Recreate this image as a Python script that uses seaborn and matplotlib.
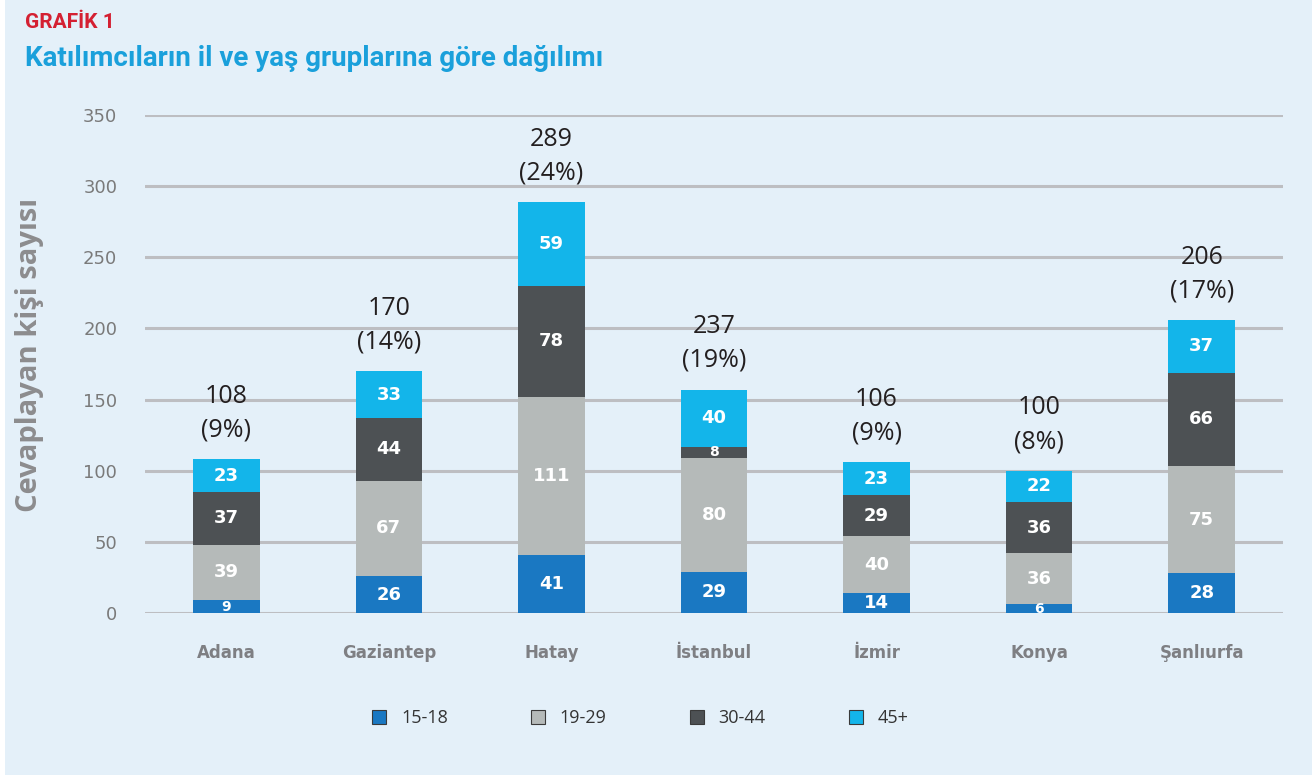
import numpy as np
import pandas as pd
import matplotlib
matplotlib.use("Agg")
import matplotlib.pyplot as plt
from matplotlib.patches import Rectangle, Patch
import seaborn as sns

# ---- data ----
cities = ["Adana", "Gaziantep", "Hatay", "İstanbul", "İzmir", "Konya", "Şanlıurfa"]
age_groups = ["15-18", "19-29", "30-44", "45+"]
v_15_18 = [9, 26, 41, 29, 14, 6, 28]
v_19_29 = [39, 67, 111, 80, 40, 36, 75]
v_30_44 = [37, 44, 78, 8, 29, 36, 66]
v_45p = [23, 33, 59, 40, 23, 22, 37]
totals = [108, 170, 289, 237, 106, 100, 206]
percents = [9, 14, 24, 19, 9, 8, 17]
y_ticks = [0, 50, 100, 150, 200, 250, 300, 350]

colors = ["#1A78C2", "#B5BAB9", "#4D5154", "#13B5EA"]
bg = "#E4F0F9"

sns.set_theme(style="white")
plt.rcParams["font.family"] = ["Open Sans", "DejaVu Sans"]

fig = plt.figure(figsize=(13.12, 7.76), dpi=100)
fig.patch.set_facecolor("white")
fig.add_artist(Rectangle((5 / 1312, 1.5 / 776), 1, 1, transform=fig.transFigure,
                         facecolor=bg, edgecolor="none", zorder=-10))

ax = fig.add_axes([145 / 1312, 1 - 613 / 776, (1283 - 145) / 1312, (613 - 115) / 776])
ax.set_facecolor("none")

series = [v_15_18, v_19_29, v_30_44, v_45p]
cum = np.zeros(len(cities))
cums = []
for s in series:
    cum = cum + np.array(s)
    cums.append(cum.copy())

# draw from top (cumulative) to bottom so the layers stack visually
for i in range(3, -1, -1):
    d = pd.DataFrame({"city": cities, "val": cums[i]})
    sns.barplot(data=d, x="city", y="val", color=colors[i], width=0.41,
                saturation=1, ax=ax, zorder=3, linewidth=0)

ax.set_ylim(0, 350)
ax.set_xlim(-0.5, len(cities) - 0.5)
ax.set_yticks(y_ticks)
ax.yaxis.grid(True, color="#BDBEC2", linewidth=2.2, zorder=0)
ax.set_axisbelow(True)
for sp in ax.spines.values():
    sp.set_visible(False)
ax.tick_params(axis="y", length=0, pad=20, labelsize=13, labelcolor="#7A7A7A")
ax.tick_params(axis="x", length=0, pad=22, labelsize=12, labelcolor="#7E7F83")
for lbl in ax.get_yticklabels():
    lbl.set_family(["DejaVu Sans"])
for lbl in ax.get_xticklabels():
    lbl.set_family(["DejaVu Sans"])
    lbl.set_fontweight("bold")
ax.set_xlabel("")
ax.set_ylabel("")

# segment labels
for i, s in enumerate(series):
    base = cums[i] - np.array(s)
    for j, v in enumerate(s):
        fs = 13 if v >= 10 else 10
        ax.text(j, base[j] + v / 2, str(v), ha="center", va="center",
                color="white", fontsize=fs, fontweight="bold",
                family=["DejaVu Sans"], zorder=5)

# totals
for j in range(len(cities)):
    top = cums[-1][j]
    ax.annotate(f"{totals[j]}\n({percents[j]}%)", xy=(j, top), xytext=(0, 12),
                textcoords="offset points", ha="center", va="bottom",
                fontsize=18, color="#231F20", linespacing=1.45,
                annotation_clip=False, zorder=5)

fig.text(30 / 1312, 1 - 355 / 776, "Cevaplayan kişi sayısı", rotation=90,
         ha="center", va="center", fontsize=21, fontweight="bold", color="#8C8C8E")

fig.text(25 / 1312, 1 - 22 / 776, "GRAFİK 1", ha="left", va="center",
         fontsize=15, fontweight="bold", color="#D42032",
         family=["Roboto", "DejaVu Sans"])
fig.text(25 / 1312, 1 - 58 / 776, "Katılımcıların il ve yaş gruplarına göre dağılımı",
         ha="left", va="center", fontsize=20, fontweight="bold", color="#1AA0DB",
         family=["Roboto", "DejaVu Sans"])

handles = [Patch(facecolor=c, edgecolor="#3A3A3A", linewidth=0.8) for c in colors]
fig.legend(handles, age_groups, loc="center", bbox_to_anchor=(0.488, 1 - 718 / 776),
           ncol=4, frameon=False, fontsize=13, handlelength=0.8, handleheight=0.8,
           handletextpad=0.8, columnspacing=4.6, labelcolor="#333333")

fig.savefig("out.png", dpi=100, facecolor=fig.get_facecolor())
